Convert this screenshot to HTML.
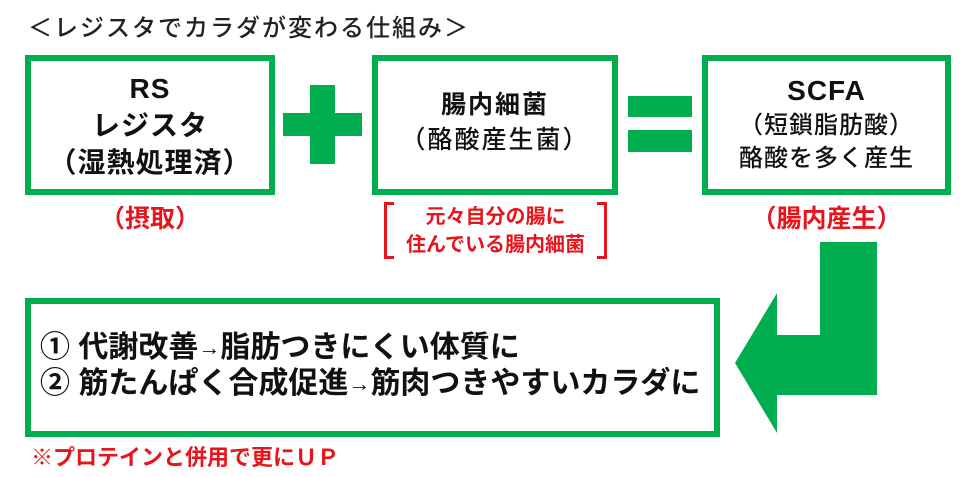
<!DOCTYPE html>
<html><head><meta charset="utf-8"><style>
body{margin:0;width:977px;height:477px;background:#fff;position:relative;overflow:hidden;font-family:"Liberation Sans","Noto Sans CJK JP",sans-serif;}
.a{position:absolute;}
.box{position:absolute;border:6px solid #00ae4f;box-sizing:border-box;}
.t{position:absolute;text-align:center;font-weight:bold;color:#111;white-space:nowrap;}
.r{color:#e8141b;font-weight:bold;position:absolute;white-space:nowrap;}
.g{position:absolute;background:#00ae4f;}
</style></head><body>
<div class="a" style="left:28px;top:8px;font-size:24px;color:#222;font-weight:500;letter-spacing:2px;white-space:nowrap;">＜レジスタでカラダが変わる仕組み＞</div>

<div class="box" style="left:25px;top:55px;width:250px;height:140px;"></div>
<div class="t" style="left:25px;width:250px;top:70px;font-size:28px;line-height:37px;letter-spacing:1px;">RS<br>レジスタ<br>（湿熱処理済）</div>

<div class="g" style="left:283px;top:113px;width:79px;height:23px;"></div>
<div class="g" style="left:310px;top:85px;width:25px;height:79px;"></div>

<div class="box" style="left:372px;top:55px;width:246px;height:140px;"></div>
<div class="t" style="left:372px;width:246px;top:88px;font-size:25px;line-height:35px;letter-spacing:2px;">腸内細菌<br><span style="font-weight:500">（酪酸産生菌）</span></div>

<div class="g" style="left:628px;top:96px;width:64px;height:21px;"></div>
<div class="g" style="left:628px;top:130px;width:64px;height:22px;"></div>

<div class="box" style="left:702px;top:55px;width:249px;height:140px;"></div>
<div class="t" style="left:702px;width:249px;top:74px;font-size:24px;line-height:33px;font-weight:500;letter-spacing:1px;"><b style="font-size:28px">SCFA</b><br>（短鎖脂肪酸）<br>酪酸を多く産生</div>

<div class="r" style="left:25px;width:250px;text-align:center;top:199px;font-size:25px;">（摂取）</div>
<div class="r" style="left:702px;width:249px;text-align:center;top:199px;font-size:25px;">（腸内産生）</div>

<div class="a" style="left:384px;top:202px;width:10px;height:57px;border:3px solid #e8141b;border-right:none;box-sizing:border-box;"></div>
<div class="a" style="left:597px;top:202px;width:10px;height:57px;border:3px solid #e8141b;border-left:none;box-sizing:border-box;"></div>
<div class="r" style="left:384px;width:223px;text-align:center;top:203px;font-size:20px;line-height:28px;">元々自分の腸に<br>住んでいる腸内細菌</div>

<div class="box" style="left:25px;top:298px;width:695px;height:139px;"></div>
<div class="t" style="left:40px;top:330px;text-align:left;font-size:30px;line-height:36px;">① 代謝改善<span style="font-size:22px;vertical-align:2px">→</span>脂肪つきにくい体質に<br>② 筋たんぱく合成促進<span style="font-size:22px;vertical-align:2px">→</span>筋肉つきやすいカラダに</div>

<svg class="a" style="left:0;top:0" width="977" height="477">
<polygon fill="#00ae4f" points="820,242 877,242 877,395 777,395 777,433 735,363 777,293 777,335 820,335"/>
</svg>

<div class="r" style="left:31px;top:440px;font-size:22px;">※プロテインと併用で更にＵＰ</div>
</body></html>
